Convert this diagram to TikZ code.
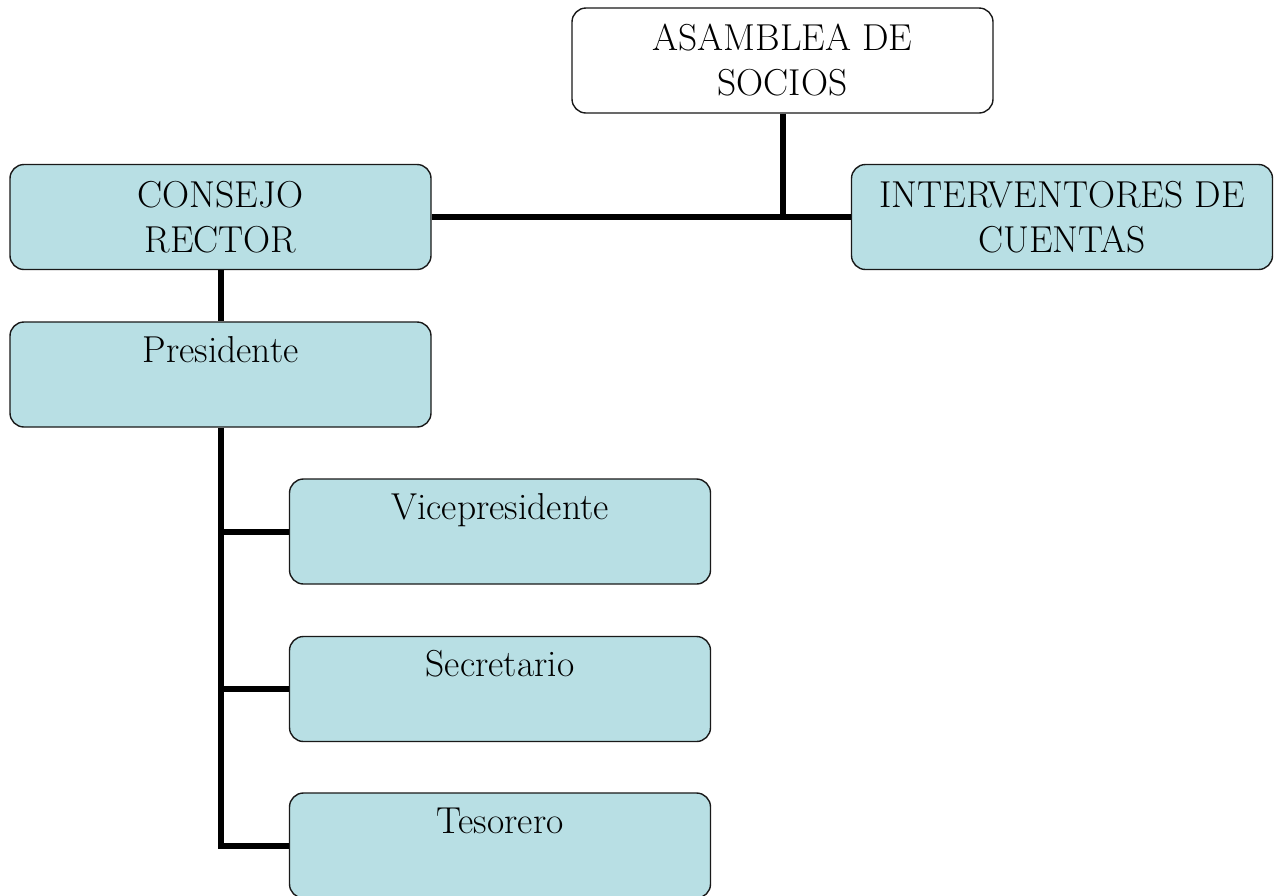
\documentclass[tikz,border=0pt]{standalone}
\definecolor{boxblue}{RGB}{184,223,228}
\begin{document}
\begin{tikzpicture}[x=1pt,y=-1pt,
  box/.style={draw=black!90, line width=1.4pt, rounded corners=14pt, minimum width=421pt, minimum height=105pt, inner sep=0pt, font=\fontsize{37.5}{45}\selectfont},
  twoline/.style={box, align=center},
  oneline/.style={box, text height=40pt, text depth=65pt},
  bluefill/.style={fill=boxblue},
  conn/.style={line width=6pt}]
\useasboundingbox (0,0) rectangle (1274,895);
\node[twoline] (asam) at (782.5,60.5) {ASAMBLEA DE\\SOCIOS};
\node[twoline,bluefill] (consejo) at (220.5,217) {CONSEJO\\RECTOR};
\node[twoline,bluefill] (interv) at (1062,217) {INTERVENTORES DE\\CUENTAS};
\node[oneline,bluefill] (pres) at (220.5,374.5) {Presidente};
\node[oneline,bluefill] (vice) at (500,531.5) {Vicepresidente};
\node[oneline,bluefill] (secr) at (500,689) {Secretario};
\node[oneline,bluefill] (teso) at (500,845.5) {Tesorero};
\draw[conn] (consejo.east) -- (interv.west);
\draw[conn] (asam.south) -- (asam.south |- consejo.east);
\draw[conn] (consejo.south) -- (pres.north);
\draw[conn] (pres.south) -- (pres.south |- teso.west) -- (teso.west);
\draw[conn] (pres.south |- vice.west) -- (vice.west);
\draw[conn] (pres.south |- secr.west) -- (secr.west);
\end{tikzpicture}
\end{document}
